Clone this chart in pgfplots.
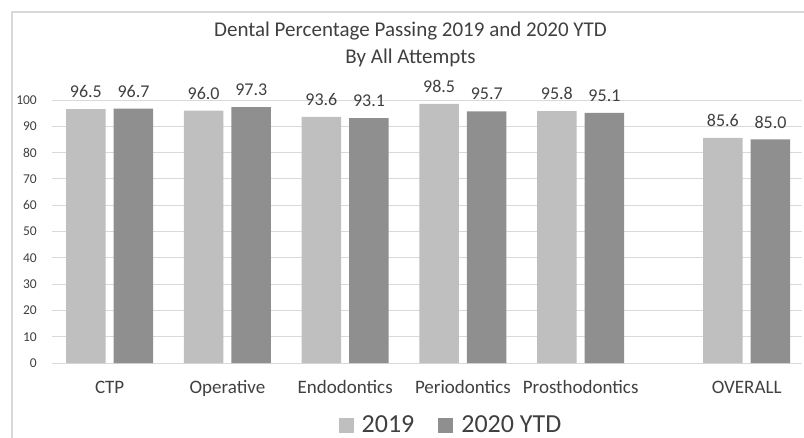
\documentclass[border=0pt]{standalone}
\usepackage{fontspec}
\setmainfont{Carlito}
\usepackage{pgfplots}
\pgfplotsset{compat=1.18}

\definecolor{cA}{HTML}{BFBFBF}
\definecolor{cB}{HTML}{8F8F8F}
\definecolor{gridc}{HTML}{D9D9D9}
\definecolor{txt}{HTML}{404040}

\begin{document}
\begin{tikzpicture}
\begin{axis}[
    at={(0,0)}, anchor=south west,
    scale only axis,
    width=750bp, height=263bp,
    xmin=-0.49, xmax=5.88,
    ymin=0, ymax=100,
    clip=false,
    axis line style={draw=none},
    ymajorgrids=true,
    grid style={gridc, line width=0.9bp},
    major tick length=0pt,
    ytick={0,10,...,100},
    xtick={0,1,2,3,4,5.41},
    xticklabels={CTP,Operative,Endodontics,Periodontics,Prosthodontics,OVERALL},
    xticklabel style={anchor=base, inner sep=0pt, yshift=-30bp, text=txt,
        font=\fontsize{19bp}{21bp}\selectfont},
    yticklabel style={anchor=east, inner sep=0pt, xshift=-15bp, text=txt,
        font=\fontsize{13.5bp}{15bp}\selectfont},
    /pgf/number format/assume math mode=true,
    title={Dental Percentage Passing 2019 and 2020 YTD\\By All Attempts},
    title style={at={(axis description cs:0.478,1)}, anchor=south, inner sep=0pt,
        yshift=27bp, align=center, text=txt,
        font=\fontsize{21bp}{27bp}\selectfont},
    ybar, bar width=39.5bp,
    nodes near coords={\pgfmathprintnumber[fixed,fixed zerofill,precision=1,assume math mode=true]{\pgfplotspointmeta}},
    nodes near coords style={anchor=south, inner sep=0pt, yshift=11bp, text=txt,
        font=\fontsize{18bp}{20bp}\selectfont},
    legend columns=2,
    legend style={at={(axis description cs:0.378,-0.236)}, anchor=west,
        draw=none, fill=none, text=txt,
        font=\fontsize{26bp}{30bp}\selectfont},
    legend image code/.code={\fill[#1,draw=none] (0bp,-7.5bp) rectangle (15bp,7.5bp);},
]
\addplot[fill=cA, draw=none, bar shift=-23.8bp] coordinates {
    (0,96.5) (1,96.0) (2,93.6) (3,98.5) (4,95.8) (5.41,85.6)
};
\addlegendentry{\rule{6bp}{0pt}2019\rule{22bp}{0pt}}
\addplot[fill=cB, draw=none, bar shift=23.8bp] coordinates {
    (0,96.7) (1,97.3) (2,93.1) (3,95.7) (4,95.1) (5.41,85.0)
};
\addlegendentry{\rule{6bp}{0pt}2020 YTD}
\end{axis}
\draw[gridc, line width=1.2bp] (-40bp,-75bp) -- (-40bp,351bp) -- (752bp,351bp);
\pgfresetboundingbox
\path[use as bounding box] (-52bp,-75bp) rectangle (752bp,363bp);
\end{tikzpicture}
\end{document}
